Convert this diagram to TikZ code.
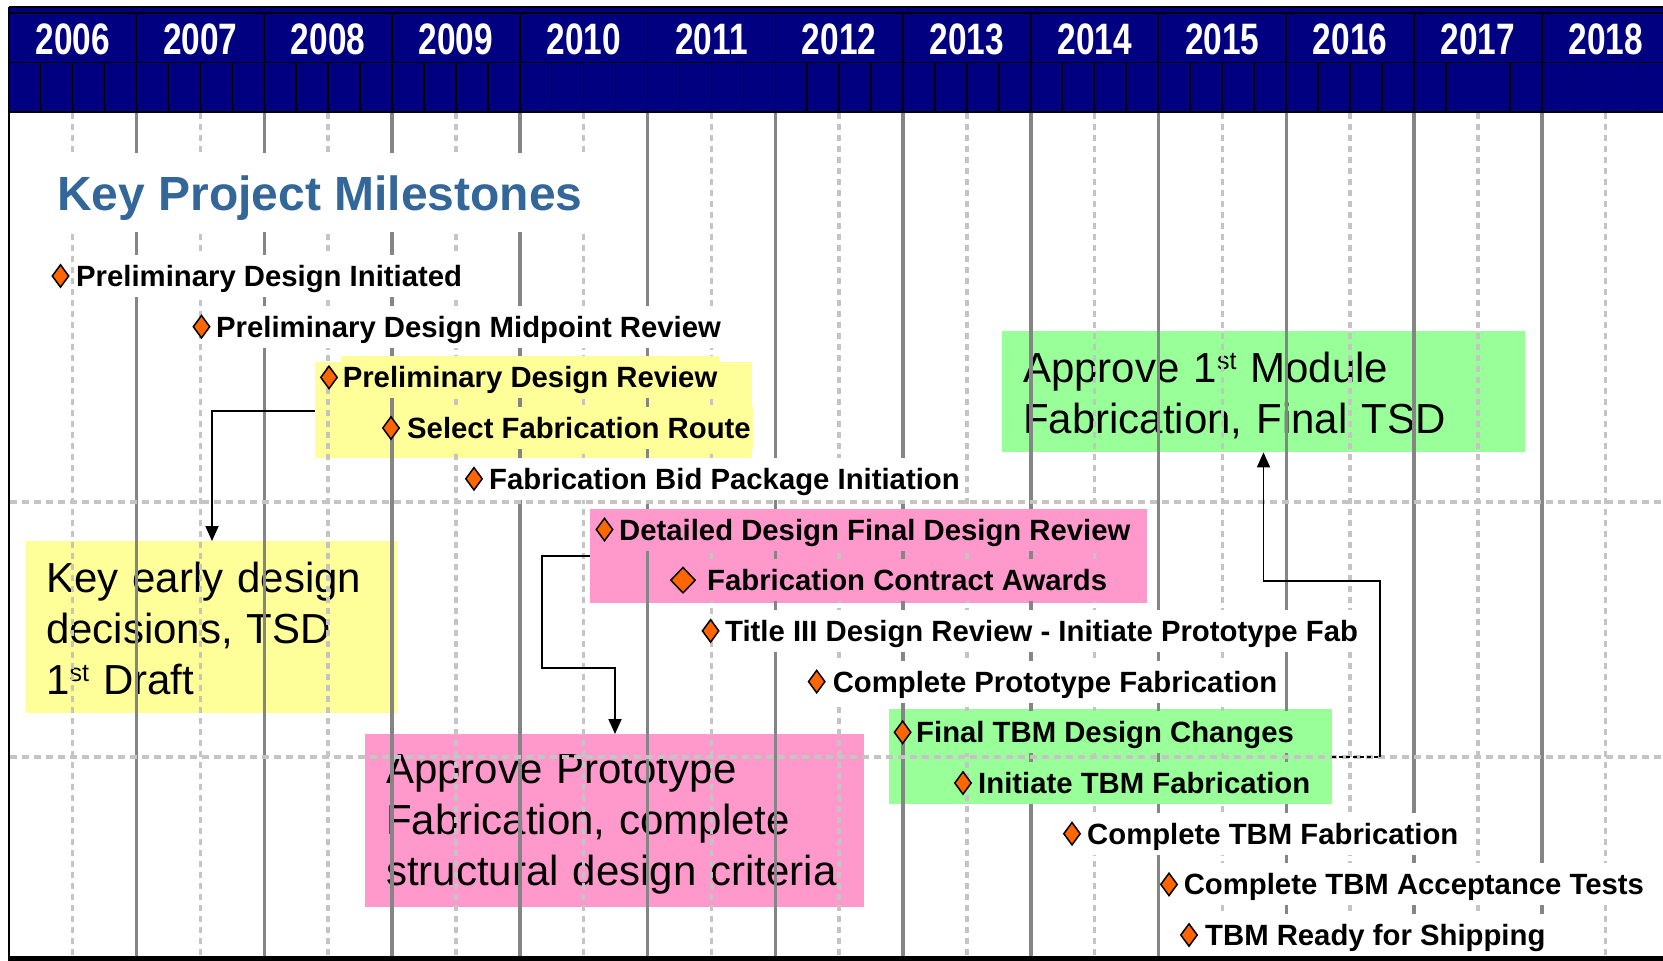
\documentclass[tikz,border=0pt]{standalone}
\usepackage{fontspec}
\setmainfont{Liberation Sans}
\usepackage{graphicx}
\usetikzlibrary{shapes.geometric,arrows.meta}
\definecolor{navy}{HTML}{000080}
\definecolor{gridsolid}{HTML}{858585}
\definecolor{griddash}{HTML}{C4C4C4}
\definecolor{noteyellow}{HTML}{FFFF99}
\definecolor{notepink}{HTML}{FF99CC}
\definecolor{notegreen}{HTML}{99FF99}
\definecolor{titleblue}{HTML}{336699}
\definecolor{msorange}{HTML}{FF6600}
\newcommand{\ordst}{\raisebox{13pt}{\fontsize{25}{25}\selectfont st}}
\tikzset{
  hdrline/.style={draw=black, line width=1.5pt},
  yearlabel/.style={anchor=base, text=white, inner sep=0pt, font=\fontsize{44}{44}\selectfont\bfseries},
  vsolid/.style={draw=gridsolid, line width=3.5pt},
  vdash/.style={draw=griddash, line width=3.5pt, dash pattern=on 6pt off 5pt},
  hdash/.style={draw=griddash, line width=3.5pt, dash pattern=on 7pt off 5pt},
  notebox/.style={anchor=north west, inner sep=0pt, draw=none},
  notetext/.style={anchor=base west, inner sep=0pt, text width=#1, align=left, font=\fontsize{42}{51}\selectfont},
  titlestyle/.style={anchor=base west, fill=white, text=titleblue, inner xsep=5pt, inner ysep=0pt, text height=57pt, text depth=22pt, font=\fontsize{48}{48}\selectfont\bfseries},
  mslabel/.style={anchor=base west, fill=#1, inner xsep=2pt, inner ysep=5pt, text height=26.5pt, text depth=5.5pt, font=\fontsize{29.3}{34}\selectfont\bfseries},
  msdiamond/.style={diamond, draw=black, line width=1.5pt, fill=msorange, inner sep=0pt, minimum width=17pt, minimum height=23pt},
  bigdiamond/.style={msdiamond, minimum width=25pt, minimum height=26pt},
  conn/.style={draw=black, line width=1.8pt, -{Triangle[width=13pt,length=15pt]}},
  connline/.style={draw=black, line width=1.8pt},
}
\begin{document}
\begin{tikzpicture}[x=1pt,y=-1pt]
\useasboundingbox (0,0) rectangle (1663,961);
\fill[white] (0,0) rectangle (1663,961);
% ---------- header ----------
\fill[navy] (9,7) rectangle (1663,112);
\draw[black,line width=2pt] (9,7) -- (1663,7);
\draw[hdrline] (9,13) -- (1663,13) (9,62.5) -- (1663,62.5) (9,112) -- (1663,112);
\foreach \k in {0,...,13} \draw[hdrline] ({8.75+127.75*\k},13) -- ({8.75+127.75*\k},112);
\foreach \n in {1,...,51}{
  \pgfmathtruncatemacro{\r}{mod(\n,4)}
  \ifnum\r=0 \else \ifnum\n=46 \else
    \draw[hdrline] ({8.75+31.9375*\n},62.5) -- ({8.75+31.9375*\n},112);
  \fi\fi
}
\foreach \k in {0,...,12}{
  \pgfmathtruncatemacro{\yr}{2006+\k}
  \node[yearlabel] (yr\yr) at ({72.625+127.75*\k},54) {\scalebox{0.76}[1]{\yr}};
}
% ---------- note boxes ----------
\node[notebox, fill=noteyellow, minimum width=371.5pt, minimum height=172pt] (kedbox) at (25.5,541) {};
\node[notetext=345pt] (kedtext) at (46,592) {Key early design\\decisions, TSD\\1\ordst{} Draft};
\node[notebox, fill=notepink, minimum width=499pt, minimum height=173pt] (apbox) at (365,734) {};
\node[notetext=475pt] (aptext) at (386,783) {Approve Prototype\\Fabrication, complete\\structural design criteria};
\node[notebox, fill=notegreen, minimum width=523pt, minimum height=121pt] (mbox) at (1002,331) {};
\node[notetext=500pt] (mtext) at (1023,382) {Approve 1\ordst{} Module\\Fabrication, Final TSD};
\node[notebox, fill=noteyellow, minimum width=437pt, minimum height=96pt] (ybox) at (315,362) {};
\node[notebox, fill=notepink, minimum width=556.5pt, minimum height=94pt] (pbox) at (590,509) {};
\node[notebox, fill=notegreen, minimum width=443pt, minimum height=95.5pt] (gbox) at (889,708.5) {};
% ---------- grid ----------
\foreach \k in {1,...,12} \draw[vsolid] ({8.75+127.75*\k},112.8) -- ({8.75+127.75*\k},956);
\foreach \k in {0,...,12} \draw[vdash] ({72.625+127.75*\k},112.8) -- ({72.625+127.75*\k},956);
\draw[hdash] (10,502) -- (1663,502);
\draw[hdash] (10,757) -- (1663,757);
% ---------- title ----------
\node[titlestyle] (title) at (52,210) {Key Project Milestones};
% ---------- milestones ----------
\node[mslabel=white] (m1) at (74,286.5) {Preliminary Design Initiated};
\node[msdiamond] (d1) at (60.5,276) {};
\node[mslabel=white] (m2) at (214,337.2) {Preliminary Design Midpoint Review};
\node[msdiamond] (d2) at (201.5,326.7) {};
\node[mslabel=noteyellow] (m3) at (340.6,387.9) {Preliminary Design Review};
\node[msdiamond] (d3) at (329,377.4) {};
\node[mslabel=noteyellow] (m4) at (405,438.5) {Select Fabrication Route};
\node[msdiamond] (d4) at (391,428) {};
\node[mslabel=white] (m5) at (487,489.3) {Fabrication Bid Package Initiation};
\node[msdiamond] (d5) at (474,478.8) {};
\node[mslabel=notepink] (m6) at (617,540) {Detailed Design Final Design Review};
\node[msdiamond] (d6) at (604.5,529.5) {};
\node[mslabel=notepink] (m7) at (705,590.7) {Fabrication Contract Awards};
\node[bigdiamond] (d7) at (683,580.2) {};
\node[mslabel=white] (m8) at (723,641.4) {Title III Design Review - Initiate Prototype Fab};
\node[msdiamond] (d8) at (710.6,630.9) {};
\node[mslabel=white] (m9) at (830.6,692.1) {Complete Prototype Fabrication};
\node[msdiamond] (d9) at (816.7,681.6) {};
\node[mslabel=notegreen] (m10) at (914,742.8) {Final TBM Design Changes};
\node[msdiamond] (d10) at (902.6,732.3) {};
\node[mslabel=notegreen] (m11) at (976,793.5) {Initiate TBM Fabrication};
\node[msdiamond] (d11) at (963,783) {};
\node[mslabel=white] (m12) at (1085,844.2) {Complete TBM Fabrication};
\node[msdiamond] (d12) at (1072,833.7) {};
\node[mslabel=white] (m13) at (1181.6,894.9) {Complete TBM Acceptance Tests};
\node[msdiamond] (d13) at (1169,884.4) {};
\node[mslabel=white] (m14) at (1203,945.5) {TBM Ready for Shipping};
\node[msdiamond] (d14) at (1189,935) {};
% ---------- connectors ----------
\coordinate (c1) at (212,411);
\draw[conn] (ybox.west |- c1) -- (c1) -- (c1 |- kedbox.north);
\coordinate (c2a) at (542,556);
\coordinate (c2b) at (615,668);
\draw[conn] (pbox.west |- c2a) -- (c2a) -- (c2a |- c2b) -- (c2b) -- (c2b |- apbox.north);
\coordinate (c3a) at (1380,757);
\coordinate (c3b) at (1263.5,581);
\draw[connline, dash pattern=on 4pt off 3pt] (gbox.east |- c3a) -- (c3a);
\draw[conn] (c3a) -- (c3a |- c3b) -- (c3b) -- (c3b |- mbox.south);
% ---------- frame ----------
\draw[black,line width=2pt] (9,7) -- (9,961);
\fill[black] (8,956) rectangle (1663,961);
\end{tikzpicture}
\end{document}
